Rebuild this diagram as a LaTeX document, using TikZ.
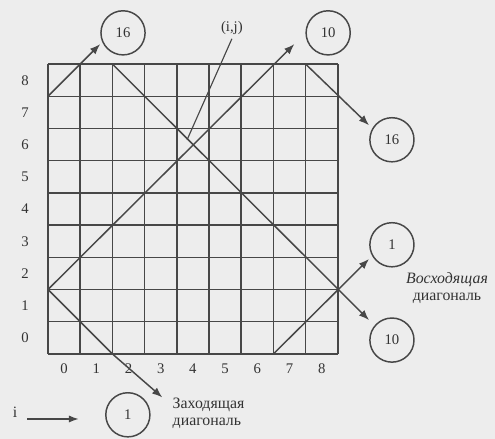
\documentclass[tikz,border=0pt]{standalone}
\usepackage{fontspec}
\setmainfont{Liberation Serif}
\usetikzlibrary{arrows.meta}

\begin{document}
\begin{tikzpicture}[
  num/.style={circle, draw, minimum size=1.37cm, inner sep=0pt,
              font=\fontsize{13}{15}\selectfont},
  lbl/.style={font=\fontsize{13}{15}\selectfont, inner sep=1pt},
  note/.style={font=\fontsize{14}{15}\selectfont, inner sep=0pt},
  diag/.style={-{Latex[length=3.2mm, width=2.4mm]}},
  line width=1.3pt, draw=black!72, text=black!80
]
\useasboundingbox[fill=black!7] (-1.49,-2.64) rectangle (13.88,10.99);

% grid and its labels
\draw (0,0) grid (9,9);
\foreach \k in {0,...,8} {
  \node[lbl] (row\k) at (-0.71, \k+0.5) {\k};
  \node[lbl] (col\k) at (\k+0.5, -0.47) {\k};
}

% circles
\node[num] (ulA) at (2.33, 9.97) {16};
\node[num] (urA) at (8.70, 9.97) {10};
\node[num] (rtA) at (10.68, 6.65) {16};
\node[num] (rtB) at (10.68, 3.39) {1};
\node[num] (rtC) at (10.68, 0.43) {10};
\node[num] (btA) at (2.48, -1.89) {1};

% ends of the diagonals
\coordinate (pa) at (0,8);
\coordinate (pb) at (0,2);
\coordinate (pc) at (2,9);
\coordinate (pd) at (8,9);
\coordinate (pe) at (7,0);
\coordinate (ta) at (1.62,9.62);
\coordinate (tb) at (7.65,9.62);
\coordinate (tc) at (9.97,1.05);
\coordinate (td) at (9.97,7.1);
\coordinate (te) at (9.97,2.95);
\coordinate (tf) at (3.55,-1.35);

\draw[diag] (pa) -- (ta);
\draw[diag] (pb) -- (tb);
\draw[diag] (pc) -- (tc);
\draw[diag] (pd) -- (td);
\draw[diag] (pe) -- (te);
\draw[diag] (pb) -- (2,0) -- (tf);

% (i,j) pointer
\node[lbl] (ij) at (5.71, 10.13) {(i,j)};
\coordinate (cell) at (4.32, 6.65);
\draw[line width=1pt] (ij.south) ++(0,-0.08) -- (cell);

% labels
\node[note, anchor=west, align=left] (inlbl) at (3.85, -1.85)
  {Заходящая\\диагональ};
\node[note, align=center] (uplbl) at (12.39, 2.05)
  {\textit{Восходящая}\\диагональ};

% index arrow
\node[note] (ilbl) at (-1.02, -1.8) {i};
\coordinate (ia) at (-0.65, -2.02);
\coordinate (ib) at (0.95, -2.02);
\draw[line width=1pt, -{Latex[length=3mm, width=2.2mm]}] (ia) -- (ib);
\end{tikzpicture}
\end{document}
